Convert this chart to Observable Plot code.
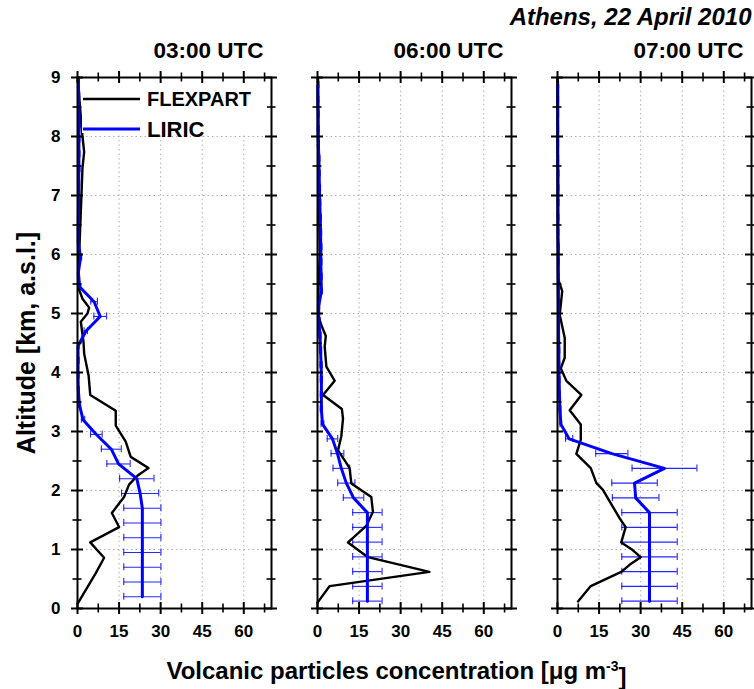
<!DOCTYPE html>
<html><head><meta charset="utf-8">
<script src="https://cdn.jsdelivr.net/npm/d3@7"></script>
<script src="https://cdn.jsdelivr.net/npm/@observablehq/plot@0.6"></script>
<style>
body{margin:0;background:#fff;}
#chart{width:754px;height:689px;}
</style></head><body><div id="chart"></div>
<script>
// ---- categories / labels ----
const panels = ["03:00 UTC", "06:00 UTC", "07:00 UTC"];
const chartTitle = "Athens, 22 April 2010";
const xTitle = "Volcanic particles concentration [μg m";
const xTitleSup = "-3";
const yTitle = "Altitude [km, a.s.l.]";
const seriesNames = ["FLEXPART", "LIRIC"];

// ---- scales / ticks ----
const xDomain = [0, 70];
const yDomain = [0, 9];
const xMajorTicks = [0, 15, 30, 45, 60];
const xMinorTicks = [7.5, 22.5, 37.5, 52.5, 67.5];
const xGridTicks = [15, 30, 45, 60];
const yMajorTicks = [0, 1, 2, 3, 4, 5, 6, 7, 8, 9];
const yMinorTicks = [0.5, 1.5, 2.5, 3.5, 4.5, 5.5, 6.5, 7.5, 8.5];
const yGridTicks = [1, 2, 3, 4, 5, 6, 7, 8];

// ---- FLEXPART (altitude km, concentration µg m-3) ----
const flex03Alt = [0.08,0.6,0.86,1.12,1.38,1.62,1.89,2.1,2.25,2.38,2.57,2.83,3.1,3.35,3.62,3.95,4.32,4.5,4.86,5.0,5.1,5.25,5.4,5.64,6.0,6.73,7.47,7.74,8.0,8.67,8.98];
const flex03Conc = [0,6.6,9.6,4.6,15,12.4,16.8,18.6,21.6,25.6,19.2,17.4,13.8,13.8,4.6,4,2.4,2.2,1.2,3.6,4.2,1.8,0.6,0.2,0.6,1.2,1.8,2.4,1.8,0.6,0.2];
const flex06Alt = [0.1,0.38,0.62,0.87,1.12,1.4,1.64,1.89,2.12,2.38,2.51,2.68,2.92,3.22,3.38,3.62,3.86,4.1,4.44,4.62,4.8,4.98,5.35,6.0,7.0,8.0,9.0];
const flex06Conc = [0,4.4,40.4,18.2,11,17.6,20,19.4,12.2,11.6,9.8,7.4,8.6,9.2,8.8,2,6.2,3.2,2.6,3,1.4,0.2,0.3,0.8,0.5,0.3,0.2];
const flex07Alt = [0.12,0.38,0.62,0.74,0.87,1.01,1.12,1.38,1.53,1.77,2.01,2.13,2.38,2.62,2.86,3.12,3.36,3.62,3.86,4.07,4.25,4.59,4.98,5.38,5.59,6.5,9.0];
const flex07Conc = [7.4,12,23,26,30,26.6,23,24.6,22.4,19.4,16.4,14,12,6.8,8.4,8.4,4.4,8.6,3.2,1.2,2.6,2.6,0.8,1.7,0.2,0.1,0];

// ---- LIRIC (altitude km, concentration, uncertainty) ----
const liricAlt03 = [0.2,0.45,0.7,0.95,1.2,1.45,1.7,1.95,2.2,2.45,2.7,2.95,3.2,3.45,3.7,3.95,4.2,4.45,4.7,4.95,5.2,5.45,5.7,5.95,6.2,6.45,6.7,6.95,7.2,7.45,7.7,7.95,8.2,8.45,8.7,8.95];
const liric03Conc = [23.4,23.4,23.4,23.4,23.4,23.4,23.4,22.6,21.4,14.8,12.2,6.8,2.0,0.7,0.3,0.2,0.2,0.2,3.0,8.2,6.0,0.8,0.3,1.1,0.3,0.3,0.4,0.4,0.4,0.5,0.5,0.5,0.6,0.5,0.4,0.3];
const liric03Err = [6.7,6.7,6.7,6.7,6.7,6.7,6.7,6.7,6.2,4.2,3.6,2.1,0.6,0.4,0.4,0.4,0.4,0.4,0.6,2.3,1.2,0.4,0.4,0.4,0.4,0.4,0.4,0.4,0.4,0.4,0.4,0.4,0.4,0.4,0.4,0.4];
const liricAlt0607 = [0.125,0.375,0.625,0.875,1.125,1.375,1.625,1.875,2.125,2.375,2.625,2.875,3.125,3.375,3.625,3.875,4.125,4.375,4.625,4.875,5.125,5.375,5.625,5.875,6.125,6.375,6.625,6.875,7.125,7.375,7.625,7.875,8.125,8.375,8.625,8.875];
const liric06Conc = [18,18,18,18,18,18,18,13.0,10.4,8.6,7.2,5.4,1.8,1.4,1.4,1.4,1.3,1.1,0.9,0.5,0.4,1.4,1.3,1.2,1.2,1.1,1.0,0.8,0.7,0.6,0.5,0.3,0.2,0.2,0.1,0.1];
const liric06Err = [5.3,5.3,5.3,5.3,5.3,5.3,5.3,3.7,3.1,3.0,2.3,1.9,0.5,0.4,0.4,0.4,0.4,0.4,0.4,0.4,0.4,0.4,0.4,0.4,0.4,0.4,0.4,0.4,0.4,0.4,0.4,0.4,0.4,0.4,0.4,0.4];
const liric07Conc = [33.2,33.2,33.2,33.2,33.2,33.2,33.2,28.2,27.8,38.6,19.6,4.2,1.2,0.9,0.7,0.6,0.5,0.5,0.4,0.4,0.4,0.3,0.3,0.3,0.3,0.2,0.2,0.2,0.2,0.2,0.1,0.1,0.1,0.1,0.1,0.1];
const liric07Err = [10,10,10,10,10,10,10,8.4,8.2,11.7,5.8,1.3,0.3,0.3,0.3,0.3,0.3,0.3,0.3,0.3,0.3,0.3,0.3,0.3,0.3,0.3,0.3,0.3,0.3,0.3,0.3,0.3,0.3,0.3,0.3,0.3];

// ---- build tables ----
function flexRows(panel, alts, concs) {
  return alts.map((a, i) => ({panel, alt: a, conc: concs[i]}));
}
function liricRows(panel, alts, concs, errs) {
  return alts.map((a, i) => ({panel, alt: a, conc: concs[i], lo: Math.max(0, concs[i] - errs[i]), hi: concs[i] + errs[i]}));
}
const flex = [
  ...flexRows(panels[0], flex03Alt, flex03Conc),
  ...flexRows(panels[1], flex06Alt, flex06Conc),
  ...flexRows(panels[2], flex07Alt, flex07Conc)
];
const liric = [
  ...liricRows(panels[0], liricAlt03, liric03Conc, liric03Err),
  ...liricRows(panels[1], liricAlt0607, liric06Conc, liric06Err),
  ...liricRows(panels[2], liricAlt0607, liric07Conc, liric07Err)
];

const FONT = "'Liberation Sans', Arial, Helvetica, sans-serif";
const BLUE = "#0000ff";
const gridStyle = {stroke: "#b0b0b0", strokeOpacity: 1, strokeWidth: 1, strokeDasharray: "1.5,3"};
const errStyle = {stroke: BLUE, strokeWidth: 1.1, strokeOpacity: 0.85};

// crossing tick helpers (short rules centred on the axis line)
const xTicksAt = (ticks, yv, half, w) => Plot.ruleX(ticks, {x: d => d, y1: () => yv, y2: () => yv, insetTop: -half, insetBottom: -half, stroke: "black", strokeWidth: w});
const yTicksAt = (ticks, xv, half, w) => Plot.ruleY(ticks, {y: d => d, x1: () => xv, x2: () => xv, insetLeft: -half, insetRight: -half, stroke: "black", strokeWidth: w});

const svg = Plot.plot({
  width: 754, height: 689,
  marginTop: 77, marginBottom: 81, marginLeft: 76, marginRight: 2,
  style: {fontFamily: FONT, background: "white", color: "black"},
  fx: {domain: panels, paddingInner: 0.192, paddingOuter: 0, axis: null, label: null},
  x: {domain: xDomain},
  y: {domain: yDomain},
  marks: [
    Plot.gridX(xGridTicks, gridStyle),
    Plot.gridY(yGridTicks, gridStyle),
    // LIRIC error bars with caps
    Plot.ruleY(liric, {fx: "panel", y: "alt", x1: "lo", x2: "hi", ...errStyle}),
    Plot.ruleX(liric, {fx: "panel", x: "lo", y1: "alt", y2: "alt", insetTop: -3.5, insetBottom: -3.5, ...errStyle}),
    Plot.ruleX(liric, {fx: "panel", x: "hi", y1: "alt", y2: "alt", insetTop: -3.5, insetBottom: -3.5, ...errStyle}),
    // profiles
    Plot.line(flex, {fx: "panel", x: "conc", y: "alt", stroke: "black", strokeWidth: 2.4}),
    Plot.line(liric, {fx: "panel", x: "conc", y: "alt", stroke: BLUE, strokeWidth: 3}),
    Plot.frame({stroke: "black", strokeWidth: 2}),
    // crossing ticks on all four sides of every panel
    xTicksAt(xMajorTicks, yDomain[0], 6, 2),
    xTicksAt(xMinorTicks, yDomain[0], 4.5, 1.6),
    xTicksAt(xMajorTicks, yDomain[1], 6, 2),
    xTicksAt(xMinorTicks, yDomain[1], 4.5, 1.6),
    yTicksAt(yMajorTicks, xDomain[0], 6, 2),
    yTicksAt(yMinorTicks, xDomain[0], 4.5, 1.6),
    yTicksAt(yMajorTicks, xDomain[1], 6, 2),
    yTicksAt(yMinorTicks, xDomain[1], 4.5, 1.6),
    // tick labels
    Plot.axisX(xMajorTicks, {anchor: "bottom", tickSize: 0, tickPadding: 16, label: null, fontSize: 17, fontWeight: "bold", tickFormat: d => String(d)}),
    Plot.axisY(yMajorTicks, {anchor: "left", tickSize: 0, tickPadding: 17, label: null, fontSize: 17, fontWeight: "bold", tickFormat: d => String(d)}),
    // panel titles
    Plot.text(panels, {fx: d => d, text: d => d, frameAnchor: "top-right", lineAnchor: "middle", dx: -8, dy: -27, fontSize: 22.5, fontWeight: "bold"}),
    Plot.text([chartTitle], {fx: () => panels[2], text: d => d, frameAnchor: "top-right", lineAnchor: "middle", dx: 0, dy: -60, fontSize: 24, fontWeight: "bold", fontStyle: "italic"}),
    // axis titles
    Plot.text([xTitle], {fx: () => panels[1], text: d => d, frameAnchor: "bottom", lineAnchor: "middle", dx: -18, dy: 63, fontSize: 24, fontWeight: "bold"}),
    Plot.text([yTitle], {fx: () => panels[0], text: d => d, frameAnchor: "left", textAnchor: "middle", lineAnchor: "middle", dx: -51, rotate: -90, fontSize: 25, fontWeight: "bold"})
  ]
});
document.getElementById("chart").appendChild(svg);

// superscript on x title
d3.select(svg).selectAll("text").filter(function() { return this.textContent === xTitle; })
  .each(function() {
    const t = d3.select(this);
    t.text(xTitle);
    t.append("tspan").attr("dy", "-0.55em").attr("font-size", "14px").text(xTitleSup);
    t.append("tspan").attr("dy", "0.55em").text("]");
  });

// legend (in first panel, upper left)
const lg = d3.select(svg).append("g").attr("font-family", FONT).attr("font-weight", "bold").attr("text-anchor", "start");
lg.append("rect").attr("x", 82).attr("y", 84).attr("width", 185).attr("height", 49).attr("fill", "white");
lg.append("line").attr("x1", 83).attr("x2", 140).attr("y1", 99).attr("y2", 99).attr("stroke", "black").attr("stroke-width", 2.4);
lg.append("text").attr("x", 147).attr("y", 106).attr("font-size", 20).text(seriesNames[0]);
lg.append("line").attr("x1", 83).attr("x2", 140).attr("y1", 129).attr("y2", 129).attr("stroke", BLUE).attr("stroke-width", 3);
lg.append("text").attr("x", 147).attr("y", 137).attr("font-size", 22).text(seriesNames[1]);
</script></body></html>
